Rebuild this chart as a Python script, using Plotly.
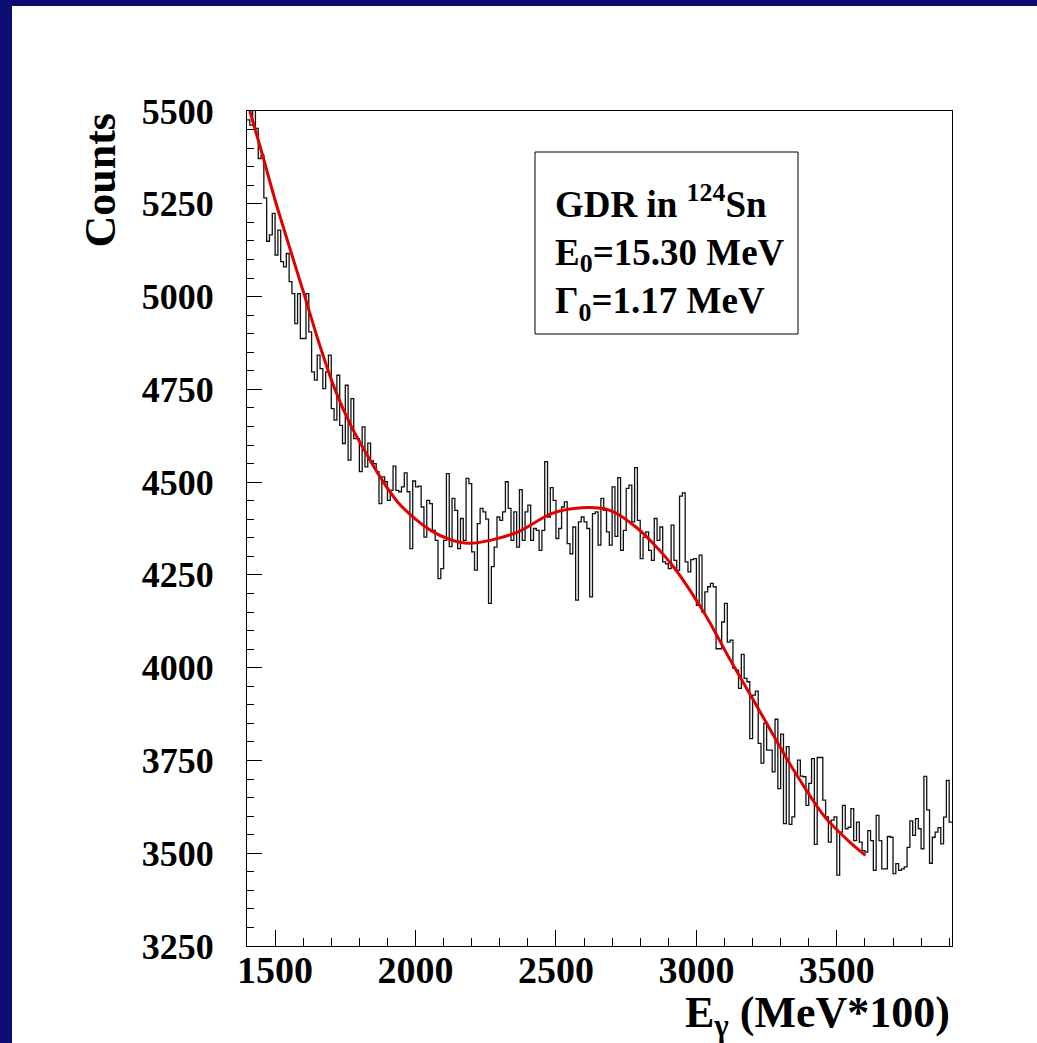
import plotly.graph_objects as go

# ---------------- data ----------------
bin_start = 1400
bin_width = 10
counts = [
    5476, 5462, 5530, 5453, 5372, 5381, 5266, 5149, 5166, 5224,
    5112, 5179, 5094, 5080, 5116, 5040, 5008, 4927, 5008, 4887,
    4887, 5008, 4905, 4797, 4775, 4842, 4806, 4752, 4797, 4842,
    4698, 4667, 4788, 4653, 4604, 4761, 4559, 4725, 4617, 4617,
    4528, 4649, 4541, 4605, 4557, 4550, 4528, 4442, 4514, 4501,
    4451, 4478, 4543, 4478, 4474, 4487, 4525, 4474, 4321, 4503,
    4487, 4489, 4433, 4352, 4451, 4442, 4370, 4343, 4240, 4267,
    4343, 4523, 4326, 4456, 4424, 4321, 4402, 4343, 4510, 4496,
    4312, 4263, 4388, 4429, 4420, 4400, 4173, 4272, 4325, 4406,
    4397, 4420, 4501, 4429, 4343, 4420, 4325, 4480, 4343, 4420,
    4438, 4343, 4375, 4370, 4316, 4370, 4555, 4406, 4485, 4451,
    4348, 4375, 4433, 4447, 4334, 4307, 4379, 4182, 4393, 4406,
    4393, 4375, 4191, 4415, 4420, 4330, 4456, 4424, 4366, 4330,
    4487, 4354, 4512, 4316, 4370, 4483, 4492, 4393, 4539, 4397,
    4294, 4352, 4366, 4316, 4289, 4402, 4343, 4379, 4285, 4280,
    4267, 4384, 4289, 4262, 4462, 4471, 4285, 4258, 4291, 4294,
    4168, 4303, 4150, 4204, 4218, 4227, 4218, 4051, 4051, 4123,
    4173, 4069, 4074, 3998, 3993, 3944, 4036, 3971, 3962, 3809,
    3926, 3937, 3796, 3743, 3850, 3778, 3778, 3719, 3861, 3674,
    3821, 3580, 3787, 3578, 3598, 3715, 3751, 3708, 3706, 3629,
    3688, 3755, 3524, 3758, 3758, 3643, 3598, 3530, 3589, 3598,
    3441, 3557, 3629, 3566, 3570, 3620, 3534, 3584, 3530, 3507,
    3503, 3561, 3534, 3454, 3602, 3534, 3458, 3458, 3545, 3543,
    3445, 3472, 3454, 3458, 3463, 3516, 3587, 3548, 3593, 3566,
    3512, 3707, 3617, 3473, 3543, 3557, 3569, 3525, 3597, 3696,
    3584,
]

fit_x = [1410, 1455, 1503, 1555, 1605, 1655, 1712, 1770, 1830, 1884,
         1937, 2000, 2058, 2120, 2190, 2265, 2365, 2484, 2591, 2692,
         2791, 2910, 3029, 3118, 3220, 3339, 3457, 3546, 3602]
fit_y = [5500, 5382, 5252, 5124, 5002, 4878, 4752, 4652, 4570, 4502,
         4446, 4400, 4368, 4346, 4335, 4343, 4366, 4415, 4431, 4424,
         4375, 4280, 4146, 4024, 3890, 3733, 3598, 3530, 3494]

x_tickvals = [1500, 2000, 2500, 3000, 3500]
y_tickvals = [3250, 3500, 3750, 4000, 4250, 4500, 4750, 5000, 5250, 5500]

legend_lines = ["GDR in <sup>124</sup>Sn",
                "E<sub>0</sub>=15.30 MeV",
                "\u0393<sub>0</sub>=1.17 MeV"]

# ---------------- figure ----------------
W, H = 1037, 1043
L, R, T, B = 247, 85, 111, 97
pw, ph = W - L - R, H - T - B

def px_x(p):
    return (p - L) / pw

def px_y(p):
    return (H - B - p) / ph

edges = [bin_start + bin_width * i for i in range(len(counts) + 1)]
step_y = counts + [counts[-1]]

FONT = "Liberation Serif"
NAVY = "#0c0c72"

fig = go.Figure()
fig.add_trace(go.Scatter(
    x=edges, y=step_y, mode="lines", line_shape="hv",
    line=dict(color="#111111", width=1.3), hoverinfo="skip", showlegend=False))
fig.add_trace(go.Scatter(
    x=fit_x, y=fit_y, mode="lines", line_shape="spline",
    line=dict(color="#e00000", width=3, smoothing=0.8),
    hoverinfo="skip", showlegend=False))

axis_common = dict(
    showgrid=False, zeroline=False, showline=True, linecolor="black",
    linewidth=1, mirror=True, ticks="inside", tickcolor="black",
    tickwidth=1)

fig.update_layout(
    width=W, height=H,
    margin=dict(l=L, r=R, t=T, b=B, pad=0),
    paper_bgcolor="white", plot_bgcolor="white",
    showlegend=False,
    xaxis=dict(range=[bin_start, bin_start + bin_width * len(counts)],
               tickvals=x_tickvals, ticklen=16,
               tickfont=dict(family=FONT, size=38, color="black", weight="bold"),
               minor=dict(dtick=100, tick0=1400, ticklen=8, ticks="inside",
                          tickcolor="black", tickwidth=1),
               ticklabelstandoff=-10,
               **axis_common),
    yaxis=dict(range=[3250, 5500], tickvals=y_tickvals, ticklen=15,
               tickfont=dict(family=FONT, size=36, color="black", weight="bold"),
               minor=dict(dtick=50, tick0=3250, ticklen=7, ticks="inside",
                          tickcolor="black", tickwidth=1),
               ticklabelstandoff=25,
               **axis_common),
)

# blue slide border strips
fig.add_shape(type="rect", xref="paper", yref="paper", layer="below",
              x0=px_x(0), x1=px_x(12), y0=px_y(H), y1=px_y(0),
              fillcolor=NAVY, line_width=0)
fig.add_shape(type="rect", xref="paper", yref="paper", layer="below",
              x0=px_x(0), x1=px_x(W), y0=px_y(6), y1=px_y(0),
              fillcolor=NAVY, line_width=0)

# legend box
fig.add_shape(type="rect", xref="paper", yref="paper",
              x0=px_x(535), x1=px_x(798), y0=px_y(334), y1=px_y(152),
              fillcolor="rgba(0,0,0,0)", line=dict(color="black", width=1))
fig.add_annotation(xref="paper", yref="paper", x=px_x(553), y=px_y(252),
                   xanchor="left", yanchor="middle", align="left",
                   showarrow=False, text="<br>".join(legend_lines),
                   font=dict(family=FONT, size=37, color="black", weight="bold"))

# axis titles
fig.add_annotation(xref="paper", yref="paper", x=1.0, y=0, yshift=-40,
                   xanchor="right", yanchor="top", showarrow=False,
                   text="E<sub>\u03b3</sub> (MeV*100)",
                   font=dict(family=FONT, size=44, color="black", weight="bold"))
fig.add_annotation(xref="paper", yref="paper", x=px_x(100), y=1.0,
                   xanchor="center", yanchor="top", showarrow=False,
                   textangle=-90, text="Counts",
                   font=dict(family=FONT, size=44, color="black", weight="bold"))

fig.write_html("out.html", config={"displayModeBar": False},
               post_script="document.body.style.margin='0';document.body.style.overflow='hidden';")
